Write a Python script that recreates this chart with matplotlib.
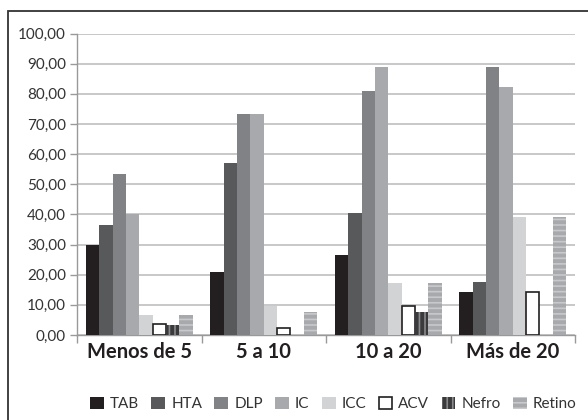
import numpy as np
import matplotlib.pyplot as plt
from matplotlib.patches import Rectangle
from matplotlib.ticker import FuncFormatter

plt.rcParams['font.family'] = ['Lato', 'DejaVu Sans']
plt.rcParams['hatch.linewidth'] = 1.2

# data
categorias = ['Menos de 5', '5 a 10', '10 a 20', 'Más de 20']
series = ['TAB', 'HTA', 'DLP', 'IC', 'ICC', 'ACV', 'Nefro', 'Retino']
tab = [30.0, 20.8, 26.5, 14.3]
hta = [36.5, 57.0, 40.5, 17.5]
dlp = [53.3, 73.3, 81.0, 89.0]
ic = [40.0, 73.3, 89.0, 82.4]
icc = [6.7, 9.5, 17.2, 39.0]
acv = [3.6, 2.4, 9.5, 14.3]
nefro = [3.3, 0.0, 7.6, 0.0]
retino = [6.7, 7.7, 17.2, 39.0]
valores = [tab, hta, dlp, ic, icc, acv, nefro, retino]

# style per series: facecolor, edgecolor, linewidth, hatch
estilos = [
    ('#231f20', '#231f20', 0, None),
    ('#58595b', '#58595b', 0, None),
    ('#808285', '#808285', 0, None),
    ('#a7a9ac', '#a7a9ac', 0, None),
    ('#d1d3d4', '#d1d3d4', 0, None),
    ('white', '#231f20', 1.2, None),
    ('#3a3a3c', '#8a8a8c', 0, '|||'),
    ('#a7a9ac', '#c8c9cb', 0, '---'),
]

fig = plt.figure(figsize=(5.88, 4.2), dpi=100)
ax = fig.add_axes([77/588, 1-335/420, (575-77)/588, (335-33.5)/420])

x = np.arange(len(categorias))
w = 0.107
for i, (nombre, vals) in enumerate(zip(series, valores)):
    fc, ec, lw, h = estilos[i]
    pos = x - 4*w + w/2 + i*w
    ax.bar(pos, vals, width=w, color=fc, edgecolor=ec, linewidth=lw,
           hatch=h, label=nombre, zorder=3)

ax.set_xlim(-0.5, 3.5)
ax.set_ylim(0, 100)
ax.set_yticks(np.arange(0, 101, 10))
ax.yaxis.set_major_formatter(FuncFormatter(lambda v, p: f'{v:.2f}'.replace('.', ',')))
ax.grid(axis='y', color='#c4c4c4', linewidth=1.3, zorder=0)
ax.set_axisbelow(True)

ax.set_xticks(np.arange(-0.5, 4, 1))
ax.set_xticklabels([])
ax.set_xticks(x, minor=True)
ax.set_xticklabels(categorias, minor=True, fontsize=14.5, fontweight='bold', color='#231f20')
ax.tick_params(axis='x', which='minor', length=0, pad=5)
ax.tick_params(axis='x', which='major', length=6, color='#999999', width=1)
ax.tick_params(axis='y', length=5, color='#999999', width=1, labelsize=11,
               labelcolor='#333333', pad=3)

for s in ['top', 'right']:
    ax.spines[s].set_visible(False)
ax.spines['left'].set_color('#999999')
ax.spines['bottom'].set_color('#999999')
ax.spines['left'].set_linewidth(1)
ax.spines['bottom'].set_linewidth(1)

fig.legend(loc='center', bbox_to_anchor=(0.567, 1-404/420), ncol=8, frameon=False,
           fontsize=11, handlelength=0.9, handleheight=0.9, handletextpad=0.4,
           columnspacing=0.8, labelcolor='#333333')

# outer frame
fig.patches.append(Rectangle((8/588, -0.1), 1.2, 1.1 - 11/420,
                             transform=fig.transFigure, fill=False,
                             edgecolor='#333333', linewidth=1.3, clip_on=False))

fig.savefig('out.png', dpi=100)
